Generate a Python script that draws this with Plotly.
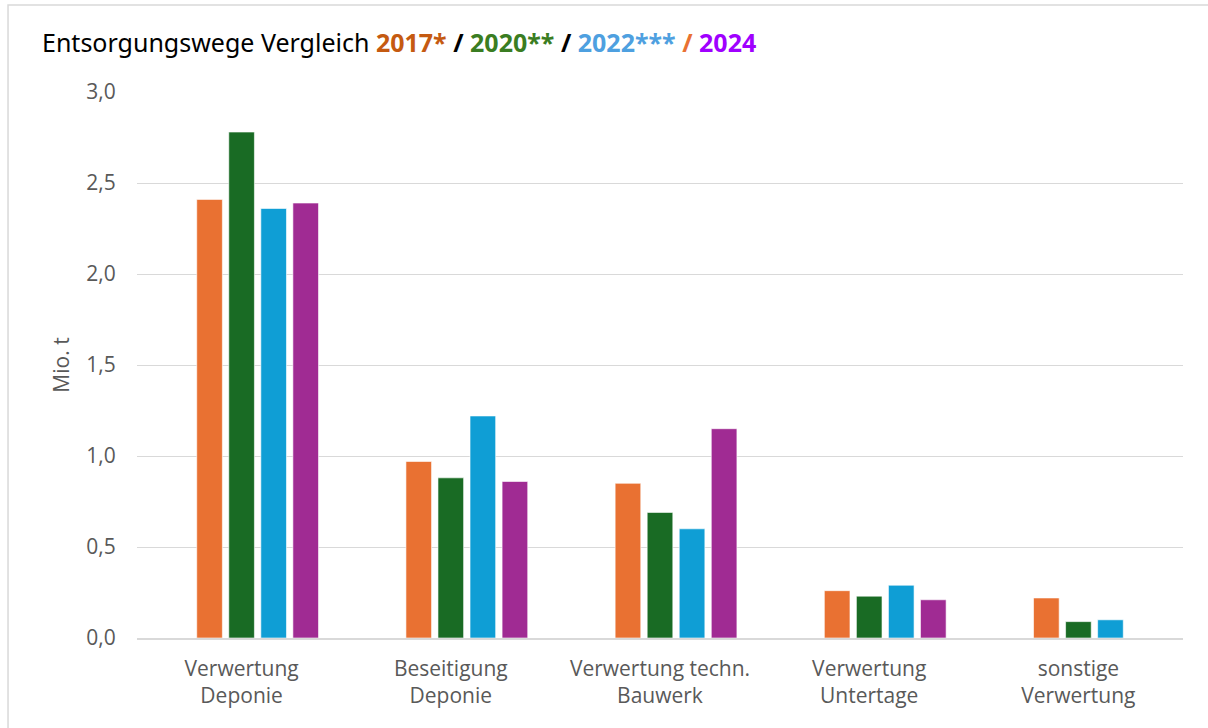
import plotly.graph_objects as go

categories = ["Verwertung<br>Deponie", "Beseitigung<br>Deponie", "Verwertung techn.<br>Bauwerk",
              "Verwertung<br>Untertage", "sonstige<br>Verwertung"]
series_names = ["", "2017", "2020", "2022", "2024"]
v_empty = [None, None, None, None, None]
v2017 = [2.41, 0.97, 0.85, 0.26, 0.22]
v2020 = [2.78, 0.88, 0.69, 0.23, 0.09]
v2022 = [2.36, 1.22, 0.60, 0.29, 0.10]
v2024 = [2.39, 0.86, 1.15, 0.21, None]
colors = ["#FFFFFF", "#E97132", "#196B24", "#0F9ED5", "#A02B93"]
y_ticks = [0, 0.5, 1.0, 1.5, 2.0, 2.5, 3.0]
y_labels = ["0,0", "0,5", "1,0", "1,5", "2,0", "2,5", "3,0"]

fig = go.Figure()
for name, vals, col in zip(series_names, [v_empty, v2017, v2020, v2022, v2024], colors):
    fig.add_trace(go.Bar(x=categories, y=vals, name=name,
                         marker=dict(color=col, line=dict(color="rgba(255,255,255,0.6)", width=1))))

title = ("Entsorgungswege Vergleich "
         "<b><span style='color:#C55A11'>2017*</span> / "
         "<span style='color:#3A7D22'>2020**</span> / "
         "<span style='color:#4EA0E0'>2022***</span> "
         "<span style='color:#E97132'>/</span> "
         "<span style='color:#A000FF'>2024</span></b>")

fig.update_layout(
    width=1208, height=728,
    margin=dict(l=137, r=25, t=92, b=90),
    paper_bgcolor="white", plot_bgcolor="white",
    barmode="group", bargap=0.234, bargroupgap=0.2,
    showlegend=False,
    font=dict(family="Open Sans, Lato, sans-serif", color="#595959"),
    title=dict(text=title, x=0, xref="paper", xanchor="left", y=0.94, yanchor="middle",
               font=dict(size=25, color="black", family="Noto Sans, Open Sans, sans-serif"), pad=dict(l=-95)),
    xaxis=dict(showgrid=False, showline=True, linecolor="#D9D9D9", linewidth=1.5,
               tickfont=dict(size=21, color="#595959"), ticks="outside", ticklen=11, tickcolor="white"),
    yaxis=dict(range=[0, 3.0], tickvals=y_ticks, ticktext=y_labels, showgrid=True,
               gridcolor="#D9D9D9", gridwidth=1, zeroline=False, showline=False,
               ticks="outside", ticklen=16, tickcolor="white",
               tickfont=dict(size=21, color="#595959"),
               title=dict(text="Mio. t", font=dict(size=21, color="#595959"), standoff=10)),
)
fig.add_shape(type="rect", xref="paper", yref="paper", x0=-0.1233, x1=1.03, y0=-0.17, y1=1.1593,
              line=dict(color="#D9D9D9", width=1.5), fillcolor="rgba(0,0,0,0)", layer="below")
fig.write_html("out.html", config={"displayModeBar": False},
               post_script="document.body.style.margin='0';document.body.style.overflow='hidden';")
